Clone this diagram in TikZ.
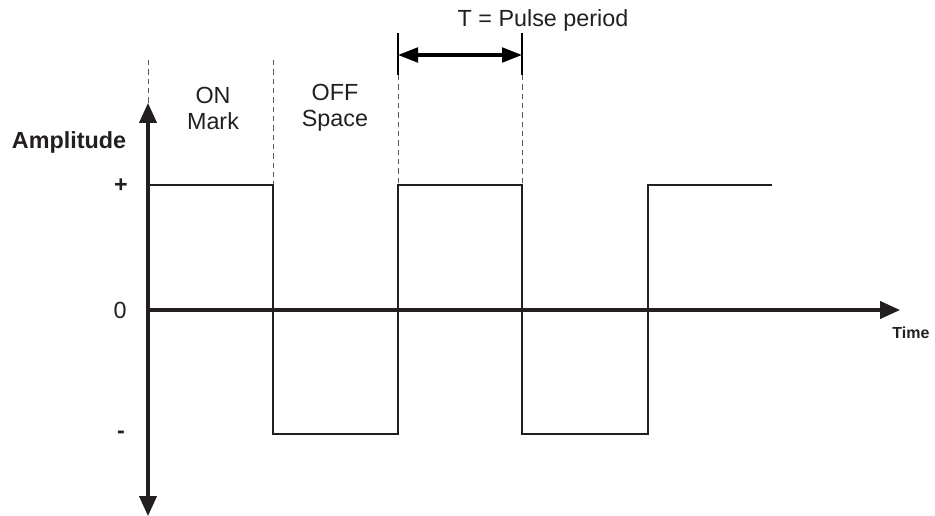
\documentclass[tikz,border=0pt]{standalone}
\usepackage{fontspec}
\setmainfont{Liberation Sans}
\usetikzlibrary{arrows.meta}
\begin{document}
\begin{tikzpicture}[x=0.75pt,y=-0.75pt,
  axis/.style={line width=2.3pt, draw={rgb,255:red,35;green,31;blue,32}, -{Triangle[length=15pt,width=13pt]}},
  wave/.style={line width=1.4pt, draw={rgb,255:red,35;green,31;blue,32}},
  guide/.style={line width=0.6pt, dashed, dash pattern=on 4pt off 3pt, draw={rgb,255:red,90;green,90;blue,90}},
  lbl/.style={font=\fontsize{17.5}{19.5}\selectfont, text={rgb,255:red,35;green,31;blue,32}, inner sep=0pt, align=center},
  blbl/.style={font=\fontsize{17.5}{19.5}\selectfont\bfseries, text={rgb,255:red,35;green,31;blue,32}, inner sep=0pt},
  tlbl/.style={font=\fontsize{12}{14}\selectfont\bfseries, text={rgb,255:red,35;green,31;blue,32}, inner sep=0pt}]
\useasboundingbox (0,0) rectangle (935,516);
% coordinates
\coordinate (o) at (148,310);
\coordinate (ytop) at (148,103);
\coordinate (ybot) at (148,516);
\coordinate (xend) at (900,310);
\coordinate (g0a) at (148,60);
\coordinate (g0b) at (148,103);
\coordinate (g1a) at (273,60);
\coordinate (g1b) at (273,185);
\coordinate (g2a) at (398,75);
\coordinate (g2b) at (398,185);
\coordinate (g3a) at (522,75);
\coordinate (g3b) at (522,185);
\coordinate (b2t) at (398,33);
\coordinate (b3t) at (522,33);
\coordinate (da) at (398,55);
\coordinate (db) at (522,55);
\coordinate (w0) at (148,185);
\coordinate (w1) at (273,185);
\coordinate (w2) at (273,434);
\coordinate (w3) at (398,434);
\coordinate (w4) at (398,185);
\coordinate (w5) at (522,185);
\coordinate (w6) at (522,434);
\coordinate (w7) at (648,434);
\coordinate (w8) at (648,185);
\coordinate (w9) at (772,185);
% guides
\draw[guide] (g0a) -- (g0b);
\draw[guide] (g1a) -- (g1b);
\draw[guide] (g2a) -- (g2b);
\draw[guide] (g3a) -- (g3b);
\draw[line width=1.4pt] (b2t) -- (g2a);
\draw[line width=1.4pt] (b3t) -- (g3a);
\draw[line width=2.3pt, {Triangle[length=15pt,width=11pt]}-{Triangle[length=15pt,width=11pt]}] (da) -- (db);
% wave
\draw[wave] (w0) -- (w1) -- (w2) -- (w3) -- (w4) -- (w5) -- (w6) -- (w7) -- (w8) -- (w9);
% axes
\draw[axis] (o) -- (ytop);
\draw[axis] (o) -- (ybot);
\draw[axis] (o) -- (xend);
% labels
\node[lbl] (tp) at (543,20) {T = Pulse period};
\node[lbl] (on) at (213,108) {ON\\Mark};
\node[lbl] (off) at (335,108) {OFF\\Space};
\node[blbl] (amp) at (69,142) {Amplitude};
\node[blbl] (plus) at (121,186) {+};
\node[lbl] (zero) at (120,310) {0};
\node[blbl] (minus) at (121,435) {-};
\node[tlbl] (time) at (911,333) {Time};
\end{tikzpicture}
\end{document}
